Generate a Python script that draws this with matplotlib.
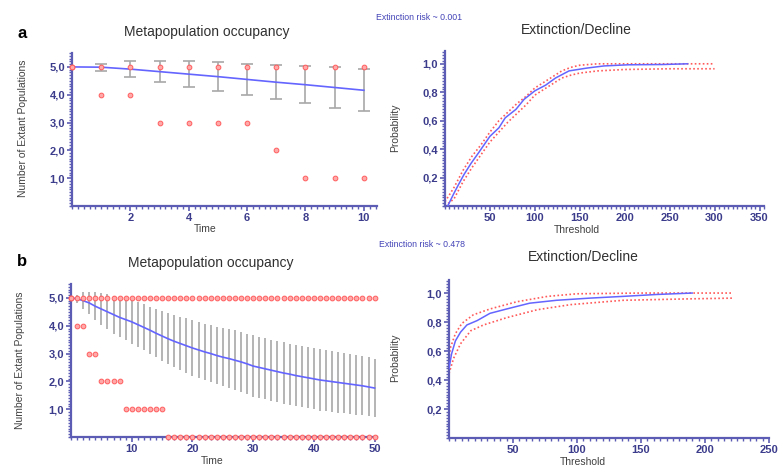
import matplotlib
matplotlib.use('Agg')
import matplotlib.pyplot as plt
from matplotlib.ticker import MultipleLocator, FuncFormatter

plt.rcParams['font.family'] = ['Liberation Sans', 'DejaVu Sans']

# ---- panel a: metapopulation occupancy (10 time steps)
time_a = [0, 1, 2, 3, 4, 5, 6, 7, 8, 9, 10]
mean_a = [5.0, 4.99, 4.92, 4.83, 4.74, 4.65, 4.55, 4.45, 4.36, 4.26, 4.16]
sd_a = [0.0, 0.13, 0.28, 0.37, 0.46, 0.51, 0.57, 0.62, 0.67, 0.72, 0.76]
max_a = [5, 5, 5, 5, 5, 5, 5, 5, 5, 5, 5]
min_a = [5, 4, 4, 3, 3, 3, 3, 2, 1, 1, 1]

# ---- panel a: extinction/decline curve
thr_a = [3, 10, 15, 21, 29, 38, 50, 60, 67, 79, 88, 100, 112, 123, 138, 158, 177, 204, 242, 270]
prob_a = [0.0, 0.09, 0.15, 0.22, 0.30, 0.38, 0.49, 0.55, 0.62, 0.68, 0.75, 0.81, 0.85, 0.90,
          0.95, 0.97, 0.985, 0.993, 0.995, 1.0]
thr_a_ci = [0, 10, 20, 30, 40, 50, 60, 70, 80, 90, 100, 110, 120, 130, 140, 150, 170, 200, 250, 300]
upper_a = [0.03, 0.13, 0.25, 0.35, 0.43, 0.52, 0.60, 0.66, 0.72, 0.77, 0.83, 0.87, 0.91, 0.95,
           0.975, 0.99, 1.0, 1.0, 1.0, 1.0]
lower_a = [0.0, 0.05, 0.17, 0.27, 0.36, 0.45, 0.52, 0.59, 0.65, 0.71, 0.78, 0.82, 0.86, 0.90,
           0.92, 0.935, 0.95, 0.96, 0.965, 0.965]

# ---- panel b: metapopulation occupancy (50 time steps)
time_b = list(range(51))
mean_b = [5.0, 4.97, 4.9, 4.82, 4.7, 4.6, 4.5, 4.4, 4.3, 4.22,
          4.14, 4.04, 3.94, 3.84, 3.73, 3.63, 3.53, 3.44, 3.36, 3.28,
          3.2, 3.13, 3.06, 3.0, 2.93, 2.87, 2.82, 2.76, 2.7, 2.63,
          2.55, 2.5, 2.45, 2.4, 2.35, 2.3, 2.26, 2.21, 2.17, 2.13,
          2.09, 2.05, 2.02, 1.99, 1.96, 1.93, 1.9, 1.87, 1.84, 1.8, 1.76]
sd_b = [0.0, 0.14, 0.3, 0.4, 0.5, 0.57, 0.63, 0.68, 0.72, 0.75,
        0.78, 0.8, 0.83, 0.85, 0.87, 0.9, 0.92, 0.94, 0.96, 0.98,
        1.0, 1.01, 1.02, 1.03, 1.04, 1.05, 1.06, 1.07, 1.08, 1.09,
        1.1, 1.1, 1.1, 1.1, 1.1, 1.1, 1.1, 1.1, 1.1, 1.1,
        1.1, 1.1, 1.09, 1.09, 1.08, 1.08, 1.07, 1.07, 1.06, 1.06, 1.05]
max_b = [5, 5, 5, 5, 5, 5, 5, 5, 5, 5, 5, 5, 5, 5, 5, 5, 5, 5, 5, 5, 5, 5, 5, 5, 5, 5,
         5, 5, 5, 5, 5, 5, 5, 5, 5, 5, 5, 5, 5, 5, 5, 5, 5, 5, 5, 5, 5, 5, 5, 5, 5]
min_b = [5, 4, 4, 3, 3, 2, 2, 2, 2, 1, 1, 1, 1, 1, 1, 1, 0, 0, 0, 0, 0, 0, 0, 0, 0, 0,
         0, 0, 0, 0, 0, 0, 0, 0, 0, 0, 0, 0, 0, 0, 0, 0, 0, 0, 0, 0, 0, 0, 0, 0, 0]

# ---- panel b: extinction/decline curve
thr_b = [0, 2, 5, 9, 14, 22, 32, 45, 63, 84, 110, 136, 162, 190]
prob_b = [0.48, 0.58, 0.67, 0.73, 0.78, 0.81, 0.86, 0.89, 0.93, 0.95, 0.965, 0.977, 0.99, 1.0]
thr_b_up = [0, 1, 5, 10, 19, 32, 53, 77, 100, 150, 222]
upper_b = [0.54, 0.62, 0.72, 0.79, 0.85, 0.89, 0.94, 0.977, 0.995, 1.0, 1.0]
thr_b_lo = [0, 3.6, 9, 17, 27, 45, 69, 95, 136, 188, 222]
lower_b = [0.445, 0.55, 0.65, 0.74, 0.78, 0.83, 0.885, 0.92, 0.95, 0.96, 0.965]

AXC = '#5c5cb4'
TXC = '#3c3c8c'
BLUE = '#6464ff'
RED = '#ff5a5a'
GRAY = '#a8a8a8'

W, H = 778, 468
fig = plt.figure(figsize=(W / 100, H / 100), dpi=100)


def box(x0, x1, ytop, ybot):
    return [x0 / W, 1 - ybot / H, (x1 - x0) / W, (ybot - ytop) / H]


comma = FuncFormatter(lambda v, p: f'{v:.1f}'.replace('.', ','))
plain = FuncFormatter(lambda v, p: f'{v:.0f}')


def style(ax, xticks, xmin, yticks, ymin, xfmt, yfmt):
    for s in ['top', 'right']:
        ax.spines[s].set_visible(False)
    for s in ['left', 'bottom']:
        ax.spines[s].set_color(AXC)
        ax.spines[s].set_linewidth(1.6)
    ax.set_xticks(xticks)
    ax.set_yticks(yticks)
    ax.xaxis.set_minor_locator(MultipleLocator(xmin))
    ax.yaxis.set_minor_locator(MultipleLocator(ymin))
    ax.xaxis.set_major_formatter(xfmt)
    ax.yaxis.set_major_formatter(yfmt)
    ax.tick_params(which='major', length=3.5, width=1.2, color=AXC, labelcolor=TXC,
                   labelsize=8, pad=1.5)
    ax.tick_params(which='minor', length=2.2, width=1.0, color=AXC)
    for lab in ax.get_xticklabels() + ax.get_yticklabels():
        lab.set_fontweight('bold')
    ax.set_facecolor('none')


def occupancy(ax, t, mean, sd, mx, mn, caps):
    ax.errorbar(t[1:], mean[1:], yerr=sd[1:], fmt='none', ecolor=GRAY, elinewidth=1.2,
                capsize=caps, capthick=1.2, zorder=2)
    ax.plot(t, mean, color=BLUE, lw=1.2, zorder=3)
    mk = dict(ls='none', marker='o', ms=3.4, mfc='#ffaaaa', mec='#ff5c5c', mew=0.7,
              clip_on=False, zorder=4)
    ax.plot(t, mx, **mk)
    ax.plot(t, mn, **mk)


def decline(ax, thr, prob, xu, up, xl, lo):
    dots = (0, (1, 1.4))
    ax.plot(xu, up, color=RED, ls=dots, lw=1.2, zorder=2)
    ax.plot(xl, lo, color=RED, ls=dots, lw=1.2, zorder=2)
    ax.plot(thr, prob, color=BLUE, lw=1.1, zorder=3)


# panel a left
ax1 = fig.add_axes(box(72, 377, 53, 206))
occupancy(ax1, time_a, mean_a, sd_a, max_a, min_a, 4)
ax1.set_xlim(0, 10.45)
ax1.set_ylim(0, 5.5)
style(ax1, [2, 4, 6, 8, 10], 0.2, [1, 2, 3, 4, 5], 0.1, plain, comma)

# panel a right
ax2 = fig.add_axes(box(445, 764, 51, 206))
decline(ax2, thr_a, prob_a, thr_a_ci, upper_a, thr_a_ci, lower_a)
ax2.set_xlim(0, 355)
ax2.set_ylim(0, 1.09)
style(ax2, [50, 100, 150, 200, 250, 300, 350], 5, [0.2, 0.4, 0.6, 0.8, 1.0], 0.02,
      plain, comma)

# panel b left
ax3 = fig.add_axes(box(71, 377, 284, 437))
occupancy(ax3, time_b, mean_b, sd_b, max_b, min_b, 0)
ax3.set_xlim(0, 50.4)
ax3.set_ylim(0, 5.5)
style(ax3, [10, 20, 30, 40, 50], 1, [1, 2, 3, 4, 5], 0.1, plain, comma)

# panel b right
ax4 = fig.add_axes(box(449, 769, 280, 438))
decline(ax4, thr_b, prob_b, thr_b_up, upper_b, thr_b_lo, lower_b)
ax4.set_xlim(0, 250)
ax4.set_ylim(0, 1.09)
style(ax4, [50, 100, 150, 200, 250], 5, [0.2, 0.4, 0.6, 0.8, 1.0], 0.02, plain, comma)

LBL = '#404040'


def ftext(x, y, s, **kw):
    fig.text(x / W, 1 - y / H, s, ha='center', va='center', **kw)


# titles and panel letters
ftext(207, 32, 'Metapopulation occupancy', fontsize=10, color='#303030')
ftext(211, 263, 'Metapopulation occupancy', fontsize=10, color='#303030')
ftext(576, 30, 'Extinction/Decline', fontsize=10, color='#303030')
ftext(583, 257, 'Extinction/Decline', fontsize=10, color='#303030')
ftext(22, 33, 'a', fontsize=12, fontweight='bold', color='black')
ftext(22, 262, 'b', fontsize=12, fontweight='bold', color='black')
ftext(419, 17, 'Extinction risk ~ 0.001', fontsize=6.3, color='#4444b8')
ftext(422, 244, 'Extinction risk ~ 0.478', fontsize=6.3, color='#4444b8')

# axis labels
ftext(205, 229, 'Time', fontsize=7.5, color=LBL)
ftext(212, 461, 'Time', fontsize=7.5, color=LBL)
ftext(577, 230, 'Threshold', fontsize=7.5, color=LBL)
ftext(583, 462, 'Threshold', fontsize=7.5, color=LBL)
ftext(23, 128, 'Number of Extant Populations', fontsize=7.5, color=LBL, rotation=90)
ftext(20, 360, 'Number of Extant Populations', fontsize=7.5, color=LBL, rotation=90)
ftext(395, 128, 'Probability', fontsize=7.5, color=LBL, rotation=90)
ftext(395, 358, 'Probability', fontsize=7.5, color=LBL, rotation=90)

fig.savefig('out.png', dpi=100)
